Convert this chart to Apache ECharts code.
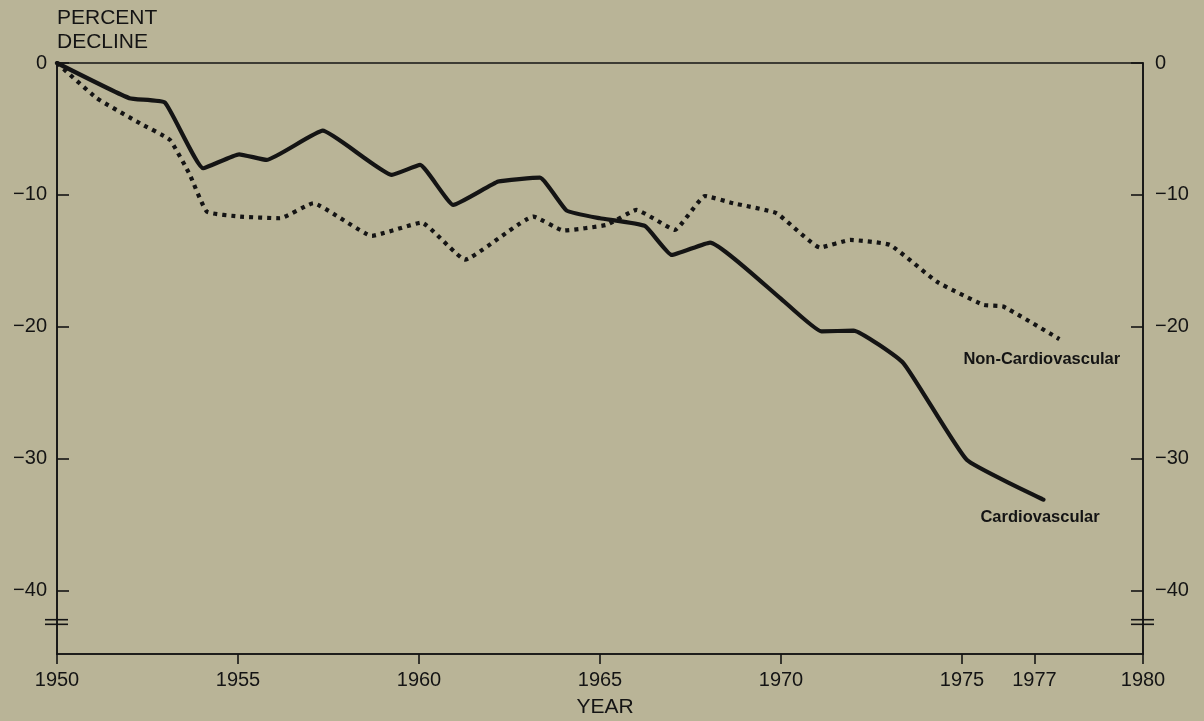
<!DOCTYPE html>
<html>
<head>
<meta charset="utf-8">
<script src="https://cdn.jsdelivr.net/npm/echarts@6/dist/echarts.min.js"></script>
<style>
html,body{margin:0;padding:0;background:#b9b497;}
#c{width:1204px;height:721px;}
</style>
</head>
<body>
<div id="c"></div>
<script>
// Data (x in years, y in percent decline)
const cardioYears  = [1950.0, 1952.0, 1952.98, 1954.04, 1955.03, 1955.79, 1957.34, 1959.25, 1960.03, 1960.95, 1962.19, 1963.34, 1964.08, 1965.0, 1966.24, 1966.98, 1968.04, 1969.97, 1971.12, 1972.0, 1973.38, 1975.13, 1977.25];
const cardioValues = [0, -2.67, -3.0, -7.98, -6.92, -7.35, -5.13, -8.48, -7.73, -10.76, -8.99, -8.69, -11.19, -11.77, -12.35, -14.55, -13.61, -17.8, -20.35, -20.28, -22.75, -30.08, -33.1];

const nonCardioYears  = [1950.0, 1951.1, 1952.29, 1953.12, 1953.67, 1954.14, 1955.06, 1956.16, 1957.08, 1958.7, 1960.07, 1961.27, 1963.16, 1963.99, 1965.18, 1966.01, 1967.07, 1967.9, 1968.68, 1969.88, 1971.08, 1971.91, 1973.01, 1974.3, 1975.59, 1976.14, 1977.69];
const nonCardioValues = [0, -2.67, -4.57, -5.83, -8.48, -11.27, -11.64, -11.77, -10.63, -13.1, -12.1, -14.9, -11.64, -12.7, -12.27, -11.14, -12.65, -10.08, -10.63, -11.39, -13.99, -13.41, -13.79, -16.57, -18.33, -18.46, -20.93];

const xTickValues = [1950, 1955, 1960, 1965, 1970, 1975, 1977, 1980];
const yTickValues = [0, -10, -20, -30, -40];
const yMin = -44.8, yMax = 0, xMin = 1950, xMax = 1980;
const axisBreakValues = [-42.2, -42.55];

const seriesNames = ['Cardiovascular', 'Non-Cardiovascular'];

const zip = (a, b) => a.map((v, i) => [v, b[i]]);
const INK = '#141414';
const FONT = '"Liberation Sans", Arial, Helvetica, sans-serif';

const chart = echarts.init(document.getElementById('c'), null, {renderer: 'canvas'});

const yLabelFmt = v => v === 0 ? '0' : '\u2212' + Math.abs(v);

const yAxisCommon = {
  type: 'value', min: yMin, max: yMax,
  axisLine: {show: true, lineStyle: {color: INK, width: 1.6}},
  axisTick: {show: true, inside: true, length: 12, customValues: yTickValues, lineStyle: {color: INK, width: 1.6}},
  axisLabel: {customValues: yTickValues, formatter: yLabelFmt, color: INK, fontFamily: FONT, fontSize: 20},
  splitLine: {show: false}
};

chart.setOption({
  backgroundColor: '#b9b497',
  animation: false,
  grid: {left: 57, right: 61, top: 63, bottom: 67, show: true, borderColor: INK, borderWidth: 1.6,
         backgroundColor: 'transparent', containLabel: false, outerBoundsMode: 'none'},
  title: {
    text: 'PERCENT\nDECLINE', left: 57, top: 6, padding: 0,
    textStyle: {fontFamily: FONT, fontSize: 21, fontWeight: 'normal', color: INK, lineHeight: 24}
  },
  xAxis: {
    type: 'value', min: xMin, max: xMax,
    name: 'YEAR', nameLocation: 'middle', nameGap: 43,
    nameTextStyle: {fontFamily: FONT, fontSize: 21, color: INK, padding: [0, 0, 0, 10]},
    axisLine: {show: true, onZero: false, lineStyle: {color: INK, width: 1.6}},
    axisTick: {show: true, inside: false, length: 10, customValues: xTickValues, lineStyle: {color: INK, width: 1.6}},
    axisLabel: {customValues: xTickValues, color: INK, fontFamily: FONT, fontSize: 20, margin: 16, formatter: v => String(v)},
    splitLine: {show: false}
  },
  yAxis: [
    Object.assign({}, yAxisCommon, {position: 'left', axisLabel: Object.assign({}, yAxisCommon.axisLabel, {margin: 10})}),
    Object.assign({}, yAxisCommon, {position: 'right', axisLabel: Object.assign({}, yAxisCommon.axisLabel, {margin: 12})})
  ],
  series: [
    {
      name: seriesNames[0], type: 'line', data: zip(cardioYears, cardioValues),
      showSymbol: false, symbol: 'none', smooth: 0.12,
      lineStyle: {color: INK, width: 4.2, join: 'round', cap: 'round'}
    },
    {
      name: seriesNames[1], type: 'line', data: zip(nonCardioYears, nonCardioValues),
      showSymbol: false, symbol: 'none', smooth: 0.12,
      lineStyle: {color: INK, width: 4.2, type: [4, 5], cap: 'butt', join: 'miter'}
    }
  ]
});

// Decorations positioned through the chart's own scales
const lastC = chart.convertToPixel({gridIndex: 0}, [cardioYears[cardioYears.length - 1], cardioValues[cardioValues.length - 1]]);
const lastN = chart.convertToPixel({gridIndex: 0}, [nonCardioYears[nonCardioYears.length - 1], nonCardioValues[nonCardioValues.length - 1]]);
const graphics = [
  {type: 'text', left: lastC[0] - 63, top: lastC[1] + 9,
   style: {text: seriesNames[0], fill: INK, font: 'bold 16.5px ' + FONT}},
  {type: 'text', left: lastN[0] - 96, top: lastN[1] + 12,
   style: {text: seriesNames[1], fill: INK, font: 'bold 16.5px ' + FONT}}
];
[xMin, xMax].forEach(xv => {
  axisBreakValues.forEach(bv => {
    const p = chart.convertToPixel({gridIndex: 0}, [xv, bv]);
    graphics.push({type: 'line', shape: {x1: p[0] - 12, y1: p[1], x2: p[0] + 11, y2: p[1]},
      style: {stroke: INK, lineWidth: 1.6}});
  });
});
chart.setOption({graphic: graphics});
</script>
</body>
</html>
